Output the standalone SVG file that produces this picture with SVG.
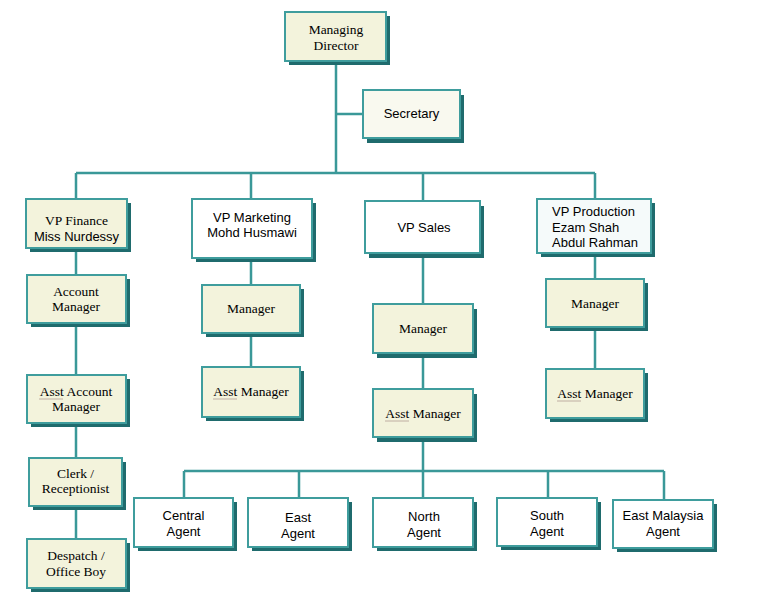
<svg xmlns="http://www.w3.org/2000/svg" width="779" height="606" viewBox="0 0 779 606">
<style>
.sh{fill:#1f6b6d}
.bx{stroke:#3f9d9d;stroke-width:2}
.cr{fill:#f3f3dc}
.wh{fill:#ffffff}
.lt{fill:#f9f9ef}
.pr{fill:#f5fafa}
.cn{stroke:#3a9898;stroke-width:2.5;fill:none}
.se{font-family:"Liberation Serif","Times New Roman",serif;font-size:13.5px;fill:#000;text-anchor:middle}
.sa{font-family:"Liberation Sans",Arial,sans-serif;font-size:13px;fill:#000;text-anchor:middle}
.sq{stroke:#8a6a6a;stroke-width:1;stroke-dasharray:1,1;fill:none}
</style>
<rect width="779" height="606" fill="#ffffff"/>
<g id="connectors">
<path class="cn" d="M336 61V173M336 114H363M76 173H595M76 173V199M251 173V199M423 173V201M595 173V199"/>
<path class="cn" d="M76 248V539M251 258V367M423 253V498M595 253V369"/>
<path class="cn" d="M184 471H664M184 471V498M299 471V498M548 471V498M664 471V500"/>
</g>
<g id="managing-director">
<rect class="sh" x="289" y="16" width="101" height="49"/>
<rect class="bx cr" x="285" y="12" width="101" height="49"/>
<text class="se" x="336" y="34">Managing</text>
<text class="se" x="336" y="50">Director</text>
</g>
<g id="secretary">
<rect class="sh" x="367" y="95" width="97" height="48"/>
<rect class="bx lt" x="363" y="90" width="97" height="48"/>
<text class="sa" x="411.5" y="118">Secretary</text>
</g>
<g id="vp-finance">
<rect class="sh" x="30" y="203" width="101" height="49"/>
<rect class="bx cr" x="26" y="199" width="101" height="49"/>
<text class="se" x="76.5" y="225">VP Finance</text>
<text class="sa" x="76.5" y="241">Miss Nurdessy</text>
</g>
<g id="vp-marketing">
<rect class="sh" x="196" y="203" width="120" height="59"/>
<rect class="bx wh" x="192" y="199" width="120" height="59"/>
<text class="sa" x="252" y="222">VP Marketing</text>
<text class="sa" x="252" y="237">Mohd Husmawi</text>
</g>
<g id="vp-sales">
<rect class="sh" x="369" y="206" width="115" height="52"/>
<rect class="bx wh" x="365" y="201" width="115" height="52"/>
<text class="sa" x="424" y="232">VP Sales</text>
</g>
<g id="vp-production">
<rect class="sh" x="541" y="203" width="114" height="54"/>
<rect class="bx pr" x="537" y="199" width="114" height="54"/>
<text class="sa" x="552" y="216" style="text-anchor:start">VP Production</text>
<text class="sa" x="552" y="232" style="text-anchor:start">Ezam Shah</text>
<text class="sa" x="552" y="247" style="text-anchor:start">Abdul Rahman</text>
</g>
<g id="account-manager">
<rect class="sh" x="31" y="279" width="99" height="48"/>
<rect class="bx cr" x="27" y="275" width="99" height="48"/>
<text class="se" x="76" y="296">Account</text>
<text class="se" x="76" y="311">Manager</text>
</g>
<g id="asst-account-manager">
<rect class="sh" x="31" y="379" width="99" height="48"/>
<rect class="bx cr" x="27" y="375" width="99" height="48"/>
<text class="se" x="76" y="396">Asst Account</text>
<text class="se" x="76" y="411">Manager</text>
<path class="sq" d="M39.5 399H63.5"/>
</g>
<g id="clerk-receptionist">
<rect class="sh" x="33" y="462" width="93" height="48"/>
<rect class="bx cr" x="29" y="458" width="93" height="48"/>
<text class="se" x="75.5" y="478">Clerk /</text>
<text class="se" x="75.5" y="493">Receptionist</text>
</g>
<g id="despatch-office-boy">
<rect class="sh" x="31" y="543" width="99" height="49"/>
<rect class="bx cr" x="27" y="539" width="99" height="49"/>
<text class="se" x="76" y="560">Despatch /</text>
<text class="se" x="76" y="576">Office Boy</text>
</g>
<g id="marketing-manager">
<rect class="sh" x="206" y="289" width="98" height="48"/>
<rect class="bx cr" x="202" y="285" width="98" height="48"/>
<text class="se" x="251" y="313">Manager</text>
</g>
<g id="marketing-asst-manager">
<rect class="sh" x="206" y="371" width="98" height="50"/>
<rect class="bx cr" x="202" y="367" width="98" height="50"/>
<text class="se" x="251" y="396">Asst Manager</text>
<path class="sq" d="M213.5 399H237.5"/>
</g>
<g id="sales-manager">
<rect class="sh" x="377" y="309" width="100" height="49"/>
<rect class="bx cr" x="373" y="304" width="100" height="49"/>
<text class="se" x="423" y="333">Manager</text>
</g>
<g id="sales-asst-manager">
<rect class="sh" x="377" y="394" width="100" height="48"/>
<rect class="bx cr" x="373" y="389" width="100" height="48"/>
<text class="se" x="423" y="418">Asst Manager</text>
<path class="sq" d="M385.5 421H409.5"/>
</g>
<g id="production-manager">
<rect class="sh" x="550" y="283" width="98" height="48"/>
<rect class="bx cr" x="546" y="279" width="98" height="48"/>
<text class="se" x="595" y="308">Manager</text>
</g>
<g id="production-asst-manager">
<rect class="sh" x="550" y="373" width="98" height="49"/>
<rect class="bx cr" x="546" y="369" width="98" height="49"/>
<text class="se" x="595" y="398">Asst Manager</text>
<path class="sq" d="M557.5 401H581.5"/>
</g>
<g id="central-agent">
<rect class="sh" x="138" y="502" width="99" height="49"/>
<rect class="bx wh" x="134" y="498" width="99" height="49"/>
<text class="sa" x="183.5" y="520">Central</text>
<text class="sa" x="183.5" y="536">Agent</text>
</g>
<g id="east-agent">
<rect class="sh" x="252" y="502" width="100" height="49"/>
<rect class="bx wh" x="248" y="498" width="100" height="49"/>
<text class="sa" x="298" y="522">East</text>
<text class="sa" x="298" y="538">Agent</text>
</g>
<g id="north-agent">
<rect class="sh" x="377" y="502" width="100" height="49"/>
<rect class="bx wh" x="373" y="498" width="100" height="49"/>
<text class="sa" x="424" y="521">North</text>
<text class="sa" x="424" y="537">Agent</text>
</g>
<g id="south-agent">
<rect class="sh" x="501" y="502" width="100" height="48"/>
<rect class="bx wh" x="497" y="498" width="100" height="48"/>
<text class="sa" x="547" y="520">South</text>
<text class="sa" x="547" y="536">Agent</text>
</g>
<g id="east-malaysia-agent">
<rect class="sh" x="617" y="504" width="100" height="48"/>
<rect class="bx wh" x="613" y="500" width="100" height="48"/>
<text class="sa" x="663" y="520">East Malaysia</text>
<text class="sa" x="663" y="536">Agent</text>
</g>
</svg>
